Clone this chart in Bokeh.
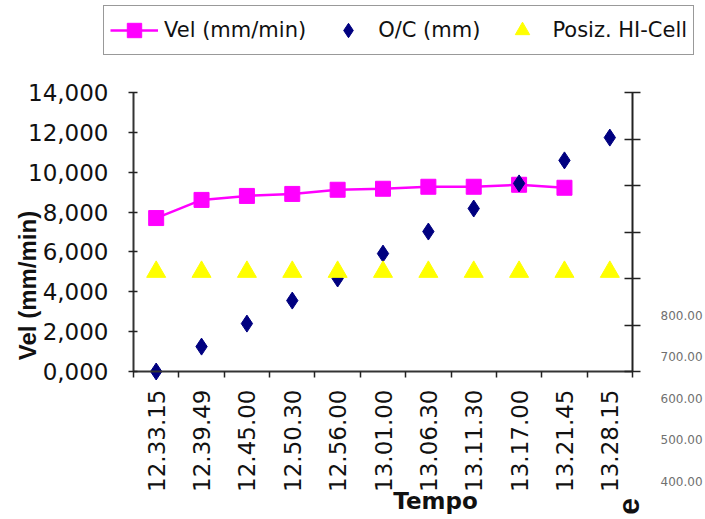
import numpy as np
from bokeh.plotting import figure
from bokeh.models import (Range1d, LinearAxis, FixedTicker, CustomJSTickFormatter,
                          Legend, LegendItem, Label)
from bokeh.embed import file_html
from bokeh.resources import INLINE

# ---------------- data ----------------
times = ["12.33.15", "12.39.49", "12.45.00", "12.50.30", "12.56.00", "13.01.00",
         "13.06.30", "13.11.30", "13.17.00", "13.21.45", "13.28.15"]
vel = [7.70, 8.61, 8.81, 8.91, 9.12, 9.17, 9.27, 9.27, 9.37, 9.22]          # Vel (mm/min)
oc = [0, 107, 206, 305, 400, 507, 602, 701, 809, 908, 1006]                  # O/C (mm)
posiz = [5.0, 5.0, 5.0, 5.0, 5.0, 5.0, 5.0, 5.0, 5.0, 5.0, 5.0]             # Posiz. HI-Cell
vel_ticks = [0, 2, 4, 6, 8, 10, 12, 14]
oc_ticks = [0, 200, 400, 600, 800, 1000, 1200]
ghost_values = [800, 700, 600, 500, 400]   # stray labels of a neighbouring chart

VMAX, OCMAX = 14, 1200
N = len(times)
xs_all = [i + 0.5 for i in range(N)]
xs_vel = xs_all[:len(vel)]

# ---------------- layout (pixels inside the canvas) ----------------
W, H = 705, 519
FL, FR, FT, FB = 133, 632, 92, 371          # plot-area box
px_x = (FR - FL) / N
px_y = (FB - FT) / VMAX
px_oc = (FB - FT) / OCMAX
GHOST_PX, GHOST_REF, GHOST_Y = 0.414, 800, 315

FONT = "DejaVu Sans"

p = figure(width=W, height=H,
           x_range=Range1d(-FL / px_x, N + (W - FR) / px_x),
           y_range=Range1d(-(H - FB) / px_y, VMAX + FT / px_y),
           output_backend="svg", toolbar_location=None)
p.min_border = 0
p.min_border_left = 0
p.min_border_right = 0
p.min_border_top = 0
p.min_border_bottom = 0
p.extra_y_ranges = {
    "oc": Range1d(-(H - FB) / px_oc, OCMAX + FT / px_oc),
    "ghost": Range1d(GHOST_REF - (H - GHOST_Y) / GHOST_PX, GHOST_REF + GHOST_Y / GHOST_PX),
}
p.grid.visible = False
p.background_fill_color = "white"
p.border_fill_color = "white"
p.outline_line_color = None

# x axis (categories between integer tick marks)
xa = p.xaxis[0]
xa.fixed_location = 0
xa.bounds = (0, N)
xa.ticker = FixedTicker(ticks=xs_all, minor_ticks=list(range(N + 1)))
xa.formatter = CustomJSTickFormatter(args=dict(labels=times),
                                     code="const i = Math.floor(tick); return labels[i] || '';")
xa.major_tick_in = 0
xa.major_tick_out = 0
xa.minor_tick_in = 0
xa.minor_tick_out = 6
xa.minor_tick_line_color = "#222222"
xa.minor_tick_line_width = 1.5
xa.axis_line_color = "#333333"
xa.axis_line_width = 2
xa.major_label_orientation = np.pi / 2
xa.major_label_standoff = 12
xa.major_label_text_font = FONT
xa.major_label_text_font_size = "23px"
xa.major_label_text_color = "#111111"

# left y axis
ya = p.yaxis[0]
ya.fixed_location = 0
ya.bounds = (0, VMAX)
ya.ticker = FixedTicker(ticks=vel_ticks)
ya.formatter = CustomJSTickFormatter(code="return tick.toFixed(3).replace('.', ',');")
ya.major_tick_in = 4
ya.major_tick_out = 5
ya.major_tick_line_color = "#222222"
ya.major_tick_line_width = 1.5
ya.minor_tick_line_color = None
ya.axis_line_color = "#333333"
ya.axis_line_width = 2
ya.major_label_standoff = 20
ya.major_label_text_font = FONT
ya.major_label_text_font_size = "23px"
ya.major_label_text_color = "#111111"

# right y axis (unlabelled)
ra = LinearAxis(y_range_name="oc", ticker=FixedTicker(ticks=oc_ticks),
                fixed_location=N, bounds=(0, OCMAX))
ra.major_tick_in = 8
ra.major_tick_out = 8
ra.major_tick_line_color = "#222222"
ra.major_tick_line_width = 1.5
ra.minor_tick_line_color = None
ra.axis_line_color = "#222222"
ra.axis_line_width = 2
ra.major_label_text_font_size = "0px"
ra.major_label_text_alpha = 0
p.add_layout(ra, "right")

# series
r_line = p.line(xs_vel, vel, line_color="#ff00ff", line_width=2.5)
r_sq = p.scatter(xs_vel, vel, marker="square", size=15, fill_color="#ff00ff", line_color="#ff00ff")
r_oc = p.scatter(xs_all, oc, y_range_name="oc", marker="diamond", size=17,
                 fill_color="#000080", line_color="#000080")
r_pos = p.scatter(xs_all, posiz, marker="triangle", size=19,
                  fill_color="#ffff00", line_color="#ffff00")

legend = Legend(items=[LegendItem(label="Vel (mm/min)", renderers=[r_line, r_sq]),
                       LegendItem(label="O/C (mm)", renderers=[r_oc]),
                       LegendItem(label="Posiz. HI-Cell", renderers=[r_pos])],
                orientation="horizontal", location=(103, H - 7 - 48),
                glyph_width=48, glyph_height=36, label_standoff=6, spacing=18,
                padding=6, margin=0,
                label_text_font=FONT, label_text_font_size="21px", label_text_color="#111111",
                border_line_color="#333333", border_line_width=1.5,
                background_fill_color="white", background_fill_alpha=1)
p.add_layout(legend, "center")

# axis titles
p.add_layout(Label(x=-2.337, y=4.315, text="Vel (mm/min)", angle=np.pi / 2,
                   text_align="center", text_baseline="middle",
                   text_font="Liberation Sans", text_font_style="bold", text_font_size="24px",
                   text_color="#111111"))
p.add_layout(Label(x=6.657, y=-6.5, text="Tempo", text_align="center", text_baseline="middle",
                   text_font=FONT, text_font_style="bold", text_font_size="23px",
                   text_color="#111111"))

# stray labels at the right edge
for v in ghost_values:
    p.add_layout(Label(x=11.618, y=v, y_range_name="ghost", text=f"{v:.2f}",
                       text_align="left", text_baseline="middle",
                       text_font=FONT, text_font_size="12px", text_color="#707070"))
p.add_layout(Label(x=10.913, y=-6.774, text="e", angle=np.pi / 2,
                   text_align="center", text_baseline="middle",
                   text_font="Liberation Sans", text_font_style="bold", text_font_size="30px",
                   text_color="#111111"))

open("out.html", "w").write(file_html(p, INLINE))
